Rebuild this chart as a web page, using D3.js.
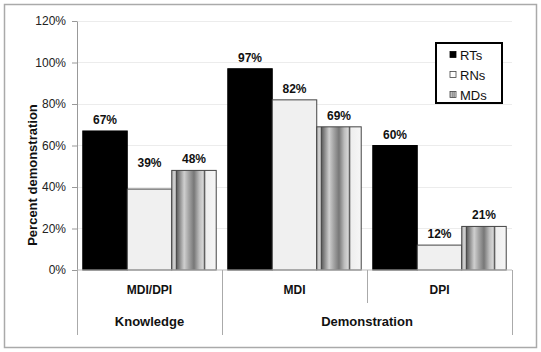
<!DOCTYPE html>
<html>
<head>
<meta charset="utf-8">
<script src="https://cdn.jsdelivr.net/npm/d3@7"></script>
<style>
  body { margin: 0; background: #fff; }
  svg { font-family: "Liberation Sans", Arial, sans-serif; }
</style>
</head>
<body>
<svg></svg>
<script>
const groups = ["MDI/DPI", "MDI", "DPI"];
const tiers = ["Knowledge", "Demonstration", "Demonstration"];
const series = ["RTs", "RNs", "MDs"];
const values = {
  "RTs": [67, 97, 60],
  "RNs": [39, 82, 12],
  "MDs": [48, 69, 21]
};
const yTicks = [0, 20, 40, 60, 80, 100, 120];

const W = 541, H = 352;
const margin = { top: 21, right: 29, bottom: 82, left: 77 };
const width = W - margin.left - margin.right;
const height = H - margin.top - margin.bottom;

const svg = d3.select("svg")
  .attr("width", W)
  .attr("height", H);

// MDs cylinder-like stripes
const grad = svg.append("defs").append("linearGradient")
  .attr("id", "mdsFill")
  .attr("x1", "0").attr("x2", "1").attr("y1", "0").attr("y2", "0");
[[0, "#999"], [0.03, "#c8c8c8"], [0.08, "#d0d0d0"], [0.1, "#444"], [0.13, "#6a6a6a"],
 [0.28, "#cfcfcf"], [0.38, "#a5a5a5"], [0.5, "#777"], [0.62, "#bdbdbd"], [0.71, "#d8d8d8"],
 [0.73, "#444"], [0.77, "#eee"], [1, "#f6f6f6"]].forEach(([o, c]) => {
  grad.append("stop").attr("offset", o).attr("stop-color", c);
});

const fills = { "RTs": "#000", "RNs": "#f0f0f0", "MDs": "url(#mdsFill)" };

// outer frame
svg.append("rect")
  .attr("x", 4.5).attr("y", 4.5)
  .attr("width", 532).attr("height", 343)
  .attr("fill", "none")
  .attr("stroke", "#aaa")
  .attr("stroke-width", 1.5);

const g = svg.append("g")
  .attr("transform", `translate(${margin.left},${margin.top})`);

const x = d3.scaleBand()
  .domain(groups)
  .range([0, width])
  .padding(0);

const xs = d3.scaleBand()
  .domain(series)
  .range([0, x.bandwidth()])
  .paddingInner(0)
  .paddingOuter(0.13);

const y = d3.scaleLinear()
  .domain([0, 120])
  .range([height, 0]);

// grid
g.selectAll(".grid-y")
  .data(yTicks.filter(d => d > 0))
  .enter().append("line")
  .attr("class", "grid-y")
  .attr("x1", 0)
  .attr("x2", width)
  .attr("y1", d => y(d))
  .attr("y2", d => y(d))
  .style("stroke", "#ececec")
  .style("shape-rendering", "crispEdges");

// y axis
const yAxis = g.append("g")
  .call(d3.axisLeft(y).tickValues(yTicks).tickFormat(d => d + "%").tickSize(5).tickSizeOuter(0));
yAxis.select(".domain").attr("stroke", "#999");
yAxis.selectAll(".tick line").attr("stroke", "#999");
yAxis.selectAll("text")
  .attr("x", -11)
  .style("font-size", "12px")
  .style("font-family", "Liberation Sans, Arial, sans-serif")
  .attr("fill", "#222");

// bars
const rows = [];
groups.forEach((grp, i) => {
  series.forEach(s => rows.push({ grp, s, v: values[s][i] }));
});

g.selectAll(".bar")
  .data(rows)
  .enter().append("rect")
  .attr("class", "bar")
  .attr("x", d => x(d.grp) + xs(d.s))
  .attr("y", d => y(d.v))
  .attr("width", xs.bandwidth())
  .attr("height", d => y(0) - y(d.v))
  .attr("fill", d => fills[d.s])
  .attr("stroke", d => d.s === "RTs" ? "#000" : "#444")
  .attr("stroke-width", 1);

// value labels (the RNs label of the first group sits higher in the original)
const nudge = { "MDI/DPI|RNs": -15 };
g.selectAll(".val")
  .data(rows)
  .enter().append("text")
  .attr("class", "val")
  .attr("x", d => x(d.grp) + xs(d.s) + xs.bandwidth() / 2)
  .attr("y", d => y(d.v) - 7 + (nudge[d.grp + "|" + d.s] || 0))
  .attr("text-anchor", "middle")
  .style("font-size", "12px")
  .style("font-weight", "bold")
  .attr("fill", "#111")
  .text(d => d.v + "%");

// baseline
g.append("line")
  .attr("x1", 0).attr("x2", width)
  .attr("y1", y(0)).attr("y2", y(0))
  .style("stroke", "#bbb");

// category dividers
const tierStart = groups.map((grp, i) => i === 0 || tiers[i] !== tiers[i - 1]);
const bounds = groups.map((grp, i) => ({ pos: x(grp), tall: tierStart[i] }));
bounds.push({ pos: width, tall: true });

g.selectAll(".div")
  .data(bounds)
  .enter().append("line")
  .attr("class", "div")
  .attr("x1", d => d.pos)
  .attr("x2", d => d.pos)
  .attr("y1", height)
  .attr("y2", d => height + (d.tall ? 65 : 33))
  .style("stroke", "#aaa")
  .style("shape-rendering", "crispEdges");

g.selectAll(".grp")
  .data(groups)
  .enter().append("text")
  .attr("class", "grp")
  .attr("x", d => x(d) + x.bandwidth() / 2)
  .attr("y", height + 24)
  .attr("text-anchor", "middle")
  .style("font-size", "12px")
  .style("font-weight", "bold")
  .attr("fill", "#111")
  .text(d => d);

const tierNames = Array.from(new Set(tiers));
g.selectAll(".tier")
  .data(tierNames)
  .enter().append("text")
  .attr("class", "tier")
  .attr("x", t => {
    const members = groups.filter((grp, i) => tiers[i] === t);
    const x0 = x(members[0]);
    const x1 = x(members[members.length - 1]) + x.bandwidth();
    return (x0 + x1) / 2;
  })
  .attr("y", height + 56)
  .attr("text-anchor", "middle")
  .style("font-size", "13px")
  .style("font-weight", "bold")
  .attr("fill", "#111")
  .text(t => t);

// y label
svg.append("text")
  .attr("transform", "translate(37,175) rotate(-90)")
  .attr("text-anchor", "middle")
  .style("font-size", "13px")
  .style("font-weight", "bold")
  .attr("fill", "#111")
  .text("Percent demonstration");

// legend
const legend = svg.append("g").attr("transform", "translate(436,43)");
legend.append("rect")
  .attr("width", 66).attr("height", 60)
  .attr("fill", "#fff")
  .attr("stroke", "#000")
  .attr("stroke-width", 2);

const li = legend.selectAll(".li")
  .data(series)
  .enter().append("g")
  .attr("transform", (d, i) => `translate(0,${12 + i * 20})`);

li.append("rect")
  .attr("x", 14).attr("y", -3.5)
  .attr("width", 6).attr("height", 6)
  .attr("fill", d => d === "RNs" ? "#fff" : fills[d])
  .attr("stroke", d => d === "RTs" ? "#000" : "#444")
  .attr("stroke-width", 0.8);

li.append("text")
  .attr("x", 24)
  .attr("y", 5)
  .style("font-size", "13px")
  .attr("fill", "#111")
  .text(d => d);
</script>
</body>
</html>
